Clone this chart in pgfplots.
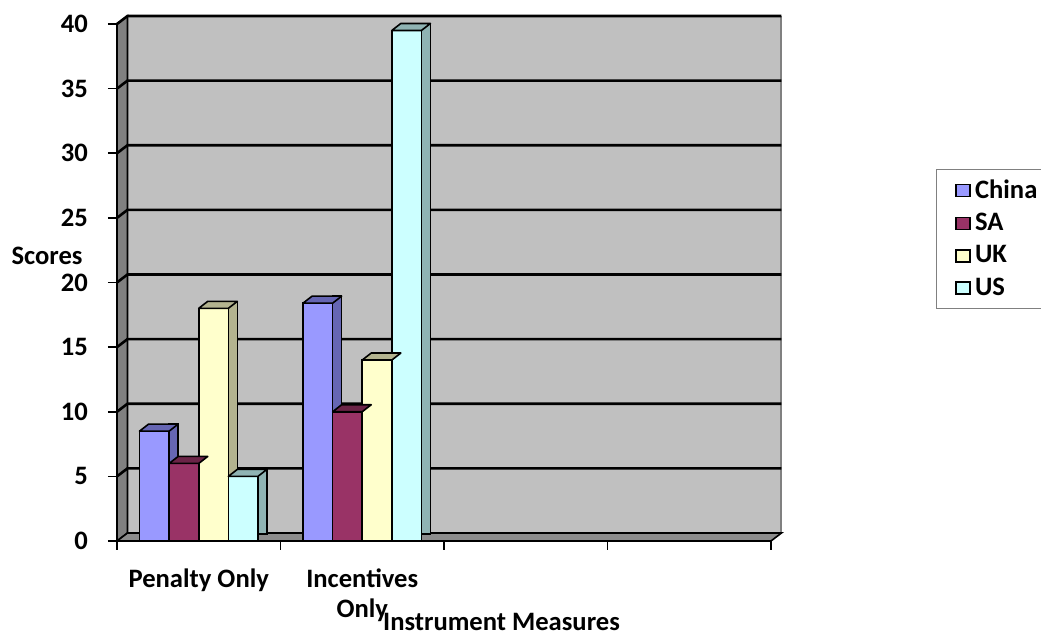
\documentclass[border=0pt]{standalone}
\usepackage{pgfplots}
\pgfplotsset{compat=1.18}
\usepackage{fontspec}
\setmainfont{Carlito}

\definecolor{chinaF}{HTML}{9999FF}
\definecolor{chinaS}{HTML}{6666B3}
\definecolor{saF}{HTML}{993366}
\definecolor{saS}{HTML}{6B2447}
\definecolor{ukF}{HTML}{FFFFCC}
\definecolor{ukS}{HTML}{B3B38F}
\definecolor{usF}{HTML}{CCFFFF}
\definecolor{usS}{HTML}{8FB3B3}
\definecolor{wall}{HTML}{C0C0C0}
\definecolor{sidewall}{HTML}{808080}
\definecolor{floorc}{HTML}{8C8C8C}

% top face of a column; #2 is the column's bar shift
\newcommand\deftopface[2]{%
  \pgfdeclareplotmark{#1}{%
    \pgfpathmoveto{\pgfpoint{#2-7.4pt}{0pt}}%
    \pgfpathlineto{\pgfpoint{#2+7.4pt}{0pt}}%
    \pgfpathlineto{\pgfpoint{#2+11.9pt}{3.5pt}}%
    \pgfpathlineto{\pgfpoint{#2-2.9pt}{3.5pt}}%
    \pgfpathclose
    \pgfusepathqfillstroke}}
\deftopface{topA}{-22.2pt}
\deftopface{topB}{-7.4pt}
\deftopface{topC}{7.4pt}
\deftopface{topD}{22.2pt}

\pgfplotstableread{
x y
0.5 8.5
1.5 18.4
}\china
\pgfplotstableread{
x y
0.5 6
1.5 10
}\sa
\pgfplotstableread{
x y
0.5 18
1.5 14
}\uk
\pgfplotstableread{
x y
0.5 5
1.5 39.5
}\us

\newcommand\lblfont{\fontsize{13.3}{15}\selectfont\bfseries}

\begin{document}
\begin{tikzpicture}
\useasboundingbox (0,0) rectangle (520.5pt,317.5pt);
\begin{axis}[
  at={(58.5pt,47pt)}, anchor=south west,
  scale only axis, width=327pt, height=258.5pt,
  xmin=0, xmax=4, ymin=0, ymax=40,
  clip=false,
  axis lines*=left,
  axis line style={black, line width=1pt},
  xtick={0.5,1.5},
  xticklabels={Penalty Only, {Incentives\\Only}},
  minor xtick={0,1,2,3,4},
  major x tick style={draw=none},
  minor tick length=4.5pt,
  ytick={0,5,...,40},
  major tick length=4.5pt,
  tick align=outside,
  tick style={black, line width=0.8pt},
  /pgf/number format/assume math mode=true,
  ticklabel style={font=\lblfont},
  xticklabel style={align=center, yshift=-6pt},
  yticklabel style={xshift=-6.5pt},
  xlabel={Instrument Measures},
  ylabel={Scores},
  label style={font=\lblfont},
  xlabel style={at={(axis description cs:0.588,-0.157)}, anchor=center},
  ylabel style={at={(axis description cs:-0.107,0.551)}, anchor=center, rotate=-90},
  legend style={at={(axis description cs:1.252,0.7195)}, anchor=north west,
    draw=gray, line width=0.6pt, font=\lblfont,
    row sep=2pt, inner xsep=3pt, inner ysep=3pt},
  legend cell align=left,
  legend image code/.code={\path (0pt,0pt); \draw[#1, mark=none, line width=0.9pt] (6.5pt,-3pt) rectangle (13.5pt,3pt);},
]
% walls and floor
\fill[wall] ([shift={(5.25pt,4pt)}]axis cs:0,0) rectangle ([shift={(5.25pt,4pt)}]axis cs:4,40);
\draw[gray, line width=1pt] ([shift={(5.25pt,4pt)}]axis cs:4,0) -- ([shift={(5.25pt,4pt)}]axis cs:4,40);
\filldraw[fill=sidewall, draw=black, line width=0.8pt] (axis cs:0,0) -- (axis cs:0,40)
  -- ([shift={(5.25pt,4pt)}]axis cs:0,40) -- ([shift={(5.25pt,4pt)}]axis cs:0,0) -- cycle;
\filldraw[fill=floorc, draw=black, line width=0.8pt] (axis cs:0,0) -- (axis cs:4,0)
  -- ([shift={(5.25pt,4pt)}]axis cs:4,0) -- ([shift={(5.25pt,4pt)}]axis cs:0,0) -- cycle;
% horizontal grid lines on the back wall
\pgfplotsinvokeforeach{5,10,...,40}{
  \draw[black, line width=1.3pt] (axis cs:0,#1) -- ([shift={(5.25pt,4pt)}]axis cs:0,#1)
    -- ([shift={(5.25pt,4pt)}]axis cs:4,#1);
}
% China
\addplot[ybar, bar width=4.5pt, bar shift=-12.55pt, yshift=3.5pt, fill=chinaS, draw=black, line width=0.8pt, forget plot] table {\china};
\addplot[ybar, bar width=14.8pt, bar shift=-22.2pt, fill=chinaF, draw=black, line width=0.8pt,
  mark=topA, mark options={fill=chinaS, draw=black, line width=0.8pt, line join=round}] table {\china};
% SA
\addplot[ybar, bar width=4.5pt, bar shift=2.25pt, yshift=3.5pt, fill=saS, draw=black, line width=0.8pt, forget plot] table {\sa};
\addplot[ybar, bar width=14.8pt, bar shift=-7.4pt, fill=saF, draw=black, line width=0.8pt,
  mark=topB, mark options={fill=saS, draw=black, line width=0.8pt, line join=round}] table {\sa};
% UK
\addplot[ybar, bar width=4.5pt, bar shift=17.05pt, yshift=3.5pt, fill=ukS, draw=black, line width=0.8pt, forget plot] table {\uk};
\addplot[ybar, bar width=14.8pt, bar shift=7.4pt, fill=ukF, draw=black, line width=0.8pt,
  mark=topC, mark options={fill=ukS, draw=black, line width=0.8pt, line join=round}] table {\uk};
% US
\addplot[ybar, bar width=4.5pt, bar shift=31.85pt, yshift=3.5pt, fill=usS, draw=black, line width=0.8pt, forget plot] table {\us};
\addplot[ybar, bar width=14.8pt, bar shift=22.2pt, fill=usF, draw=black, line width=0.8pt,
  mark=topD, mark options={fill=usS, draw=black, line width=0.8pt, line join=round}] table {\us};
\legend{China, SA, UK, US}
\end{axis}
\end{tikzpicture}
\end{document}
